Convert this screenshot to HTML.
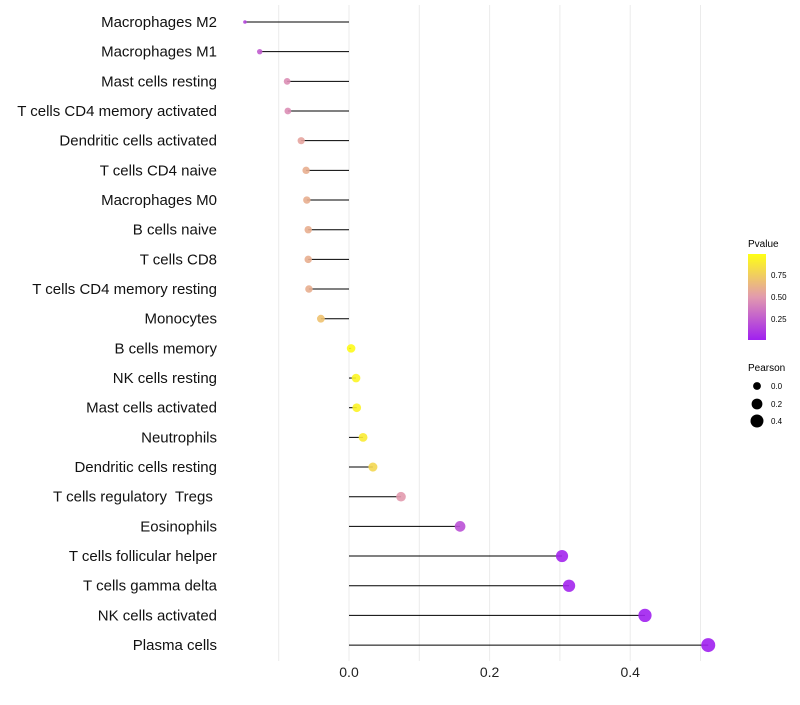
<!DOCTYPE html>
<html><head><meta charset="utf-8"><style>
body{margin:0;background:#fff;}
svg text{font-family:"Liberation Sans",sans-serif;white-space:pre;}
</style></head><body>
<svg id="chart" width="800" height="700" xmlns="http://www.w3.org/2000/svg">
<defs><linearGradient id="pgrad" x1="0" y1="1" x2="0" y2="0">
<stop offset="0" stop-color="#A020F0"/><stop offset="0.5" stop-color="#E29AAE"/><stop offset="1" stop-color="#FFFF14"/>
</linearGradient></defs>
<g id="grid"></g><g id="marks"></g><g id="labels"></g>
<g>
<text x="748" y="247" font-size="10">Pvalue</text>
<rect x="748" y="254" width="18" height="86" fill="url(#pgrad)"/>
<text x="771" y="278" font-size="8">0.75</text>
<text x="771" y="300" font-size="8">0.50</text>
<text x="771" y="322" font-size="8">0.25</text>
</g>
<g>
<text x="748" y="371" font-size="10">Pearson</text>
<circle cx="757" cy="386" r="3.9" fill="#000"/><text x="771" y="389" font-size="8">0.0</text>
<circle cx="757" cy="404" r="5.4" fill="#000"/><text x="771" y="407" font-size="8">0.2</text>
<circle cx="757" cy="421" r="6.5" fill="#000"/><text x="771" y="424" font-size="8">0.4</text>
</g>
</svg>
<script>
const cells=["Macrophages M2","Macrophages M1","Mast cells resting","T cells CD4 memory activated","Dendritic cells activated","T cells CD4 naive","Macrophages M0","B cells naive","T cells CD8","T cells CD4 memory resting","Monocytes","B cells memory","NK cells resting","Mast cells activated","Neutrophils","Dendritic cells resting","T cells regulatory  Tregs ","Eosinophils","T cells follicular helper","T cells gamma delta","NK cells activated","Plasma cells"];
const pearson=[-0.148,-0.127,-0.088,-0.087,-0.068,-0.061,-0.060,-0.058,-0.058,-0.057,-0.040,0.003,0.010,0.011,0.020,0.034,0.074,0.158,0.303,0.313,0.421,0.511];
const pvalue=[0.15,0.25,0.45,0.45,0.55,0.6,0.6,0.6,0.6,0.6,0.7,0.98,0.95,0.94,0.9,0.8,0.5,0.2,0.02,0.02,0.005,0.001];
const xTicks=[0.0,0.2,0.4];
const xGrid=[-0.1,0,0.1,0.2,0.3,0.4,0.5];
const X=v=>349+v*703;
const Y=i=>22+i*29.67;
const pmin=Math.min(...pearson),pmax=Math.max(...pearson);
const R=v=>{const t=(v-pmin)/(pmax-pmin);return 1.8+5.2*Math.sqrt(Math.max(0,t));};
function lerp(a,b,t){return a.map((x,i)=>Math.round(x+(b[i]-x)*t));}
function col(p){const lo=[160,32,240],mid=[226,154,174],hi=[255,255,20];
 const c=p<0.5?lerp(lo,mid,p/0.5):lerp(mid,hi,(p-0.5)/0.5);return `rgb(${c})`;}
const NS="http://www.w3.org/2000/svg";
function mk(t,a,p){const e=document.createElementNS(NS,t);for(const k in a)e.setAttribute(k,a[k]);p.appendChild(e);return e;}
const grid=document.getElementById('grid'),marks=document.getElementById('marks'),labels=document.getElementById('labels');
xGrid.forEach(v=>{const l=mk('line',{x1:X(v),x2:X(v),y1:5,y2:661,stroke:'#ebebeb','stroke-width':1},grid);

});
xTicks.forEach(v=>{const t=mk('text',{x:X(v),y:677,'font-size':14,'text-anchor':'middle',fill:'#222'},labels);t.textContent=v.toFixed(1);

});
cells.forEach((c,i)=>{
 const t=mk('text',{x:217,y:Y(i)+5,'font-size':15,'text-anchor':'end',fill:'#111'},labels);t.textContent=c;
 
 
 const l=mk('line',{x1:X(0),x2:X(pearson[i]),y1:Y(i),y2:Y(i),stroke:'#000','stroke-width':1},marks);
 
 
 const d=mk('circle',{cx:X(pearson[i]),cy:Y(i),r:R(pearson[i]),fill:col(pvalue[i]),'fill-opacity':0.9},marks);
 
 
});
</script>
</body></html>
